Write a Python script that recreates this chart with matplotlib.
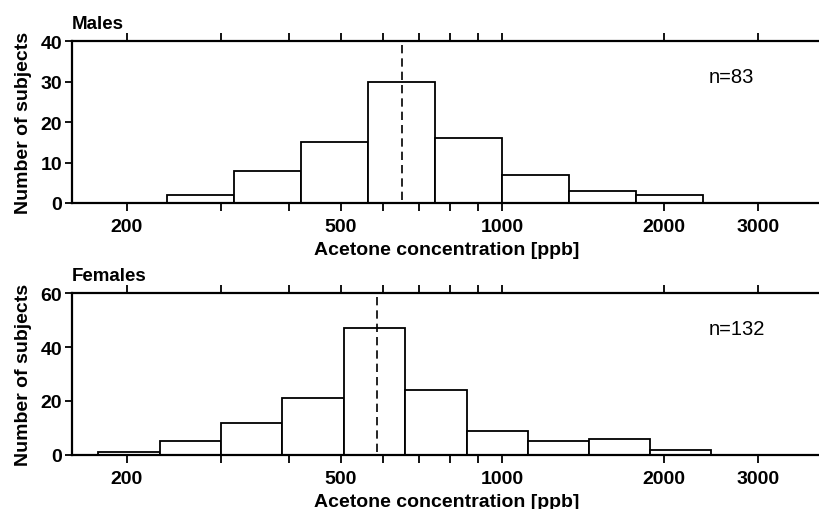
import numpy as np
import matplotlib
matplotlib.use("Agg")
import matplotlib.pyplot as plt

plt.rcParams['font.family'] = ['Liberation Sans', 'DejaVu Sans']

# histogram bins (ppb, log spaced)
male_edges = [237, 316, 422, 562, 750, 1000, 1334, 1778, 2371]
male_counts = [2, 8, 15, 30, 16, 7, 3, 2]
male_median = 650

female_edges = [177, 230, 299, 389, 507, 659, 859, 1117, 1450, 1885, 2445]
female_counts = [1, 5, 12, 21, 47, 24, 9, 5, 6, 2]
female_median = 585

x_ticks = [200, 300, 400, 500, 600, 700, 800, 900, 1000, 2000, 3000]
x_labels = ['200', '', '', '500', '', '', '', '', '1000', '2000', '3000']

panels = [
    ("Males", male_edges, male_counts, male_median, "n=83", [0, 10, 20, 30, 40], 0.6),
    ("Females", female_edges, female_counts, female_median, "n=132", [0, 20, 40, 60], 0.1059),
]

fig = plt.figure(figsize=(8.19, 5.10), dpi=100)

for title, edges, counts, med, ntext, yt, bottom in panels:
    ax = fig.add_axes([0.0879, bottom, 0.915, 0.3176])
    edges = np.array(edges, dtype=float)
    ax.bar(edges[:-1], counts, width=np.diff(edges), align='edge',
           facecolor='white', edgecolor='black', linewidth=1.3, zorder=2)
    ax.axvline(med, ymin=0.02, ymax=0.99, color='black', linewidth=1.2,
               linestyle=(0, (5, 3)), zorder=3)
    ax.set_xscale('log')
    ax.set_xlim(158, 3931)
    ax.set_ylim(0, yt[-1])
    ax.minorticks_off()
    ax.set_xticks(x_ticks)
    ax.set_xticklabels(x_labels, fontsize=14, fontweight='bold')
    ax.set_yticks(yt)
    ax.set_yticklabels([str(v) for v in yt], fontsize=14, fontweight='bold')
    ax.tick_params(axis='x', which='both', direction='out', length=6, width=1.3,
                   top=True, bottom=True, pad=5)
    ax.tick_params(axis='y', direction='out', length=5, width=1.3, pad=2)
    for s in ['left', 'top', 'bottom']:
        ax.spines[s].set_linewidth(1.6)
    ax.spines['right'].set_visible(False)
    ax.set_xlabel("Acetone concentration [ppb]", fontsize=14, fontweight='bold', labelpad=4)
    ax.set_ylabel("Number of subjects", fontsize=14, fontweight='bold', labelpad=6)
    ax.text(0.0, 1.055, title, transform=ax.transAxes, fontsize=13.5,
            fontweight='bold', ha='left', va='bottom')
    ax.text(0.849, 0.78, ntext, transform=ax.transAxes, fontsize=14.5,
            ha='left', va='center')

fig.savefig("out.png", dpi=100)
